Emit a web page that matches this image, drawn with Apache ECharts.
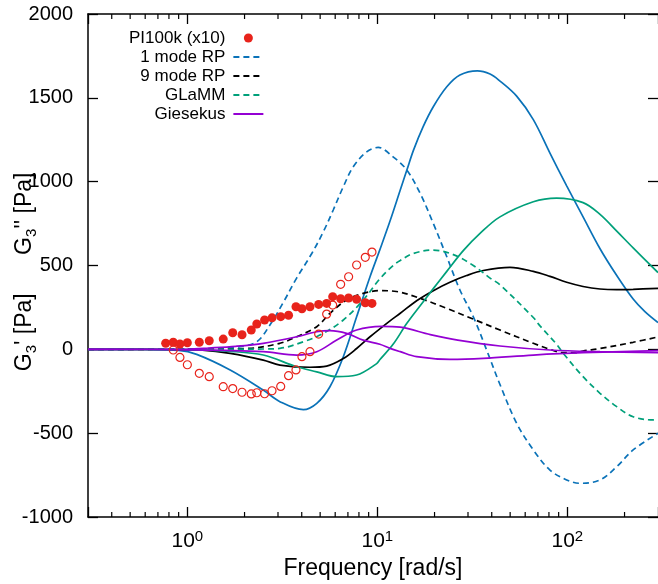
<!DOCTYPE html>
<html><head><meta charset="utf-8">
<script src="https://cdn.jsdelivr.net/npm/echarts@6/dist/echarts.min.js"></script>
<style>html,body{margin:0;padding:0;background:#fff}#c{width:658px;height:584px}</style>
</head><body><div id="c"></div>
<script>
// ---- data ----
const X_MIN = 0.3, X_MAX = 300;
const Y_MIN = -1000, Y_MAX = 2000, Y_STEP = 500;
const legendNames = ['PI100k (x10)', '1 mode RP', '9 mode RP', 'GLaMM', 'Giesekus'];
const piFreq = [0.769,0.843,0.914,1.0,1.156,1.304,1.545,1.733,1.94,2.17,2.32,2.55,2.79,3.10,3.41,3.73,4.01,4.42,4.91,5.41,5.82,6.41,7.06,7.78,8.64,9.37];
const piFilled = [36,42,32,39,42,51,61,99,87,115,151,175,188,195,203,254,242,254,268,274,314,302,306,298,278,274];
const piOpen = [null,-4,-48,-92,-143,-163,-223,-234,-256,-266,-259,-265,-247,-221,-157,-123,-44,-14,91,210,264,388,433,503,549,580];
const rp1Dashed = [[0.3,0],[0.8,1],[1.2,3],[1.6,8],[1.89,16],[2.32,45],[2.72,145],[3.20,280],[3.76,425],[4.51,570],[5.19,700],[5.86,831],[6.62,970],[7.47,1089],[8.79,1178],[10.1,1204],[12.1,1148],[14.3,1069],[16.8,930],[19.7,751],[23.2,552],[27.2,354],[32.0,194],[37.6,-4],[44.2,-210],[54.1,-441],[66.2,-600],[81,-720],[99.2,-779],[116.6,-799],[148.6,-779],[182,-700],[222,-600],[300,-501]];
const rp1Solid = [[0.3,0],[0.6,-1],[0.9,-6],[1.12,-30],[1.68,-123],[2.51,-243],[3.07,-312],[4.08,-360],[4.80,-322],[5.63,-223],[6.62,-44],[7.78,194],[9.15,433],[10.3,593],[11.66,765],[13.2,950],[14.3,1069],[15.5,1188],[17.4,1327],[19.7,1447],[23.2,1566],[27.2,1636],[33.6,1661],[39.2,1642],[44.2,1600],[54.1,1510],[66.2,1370],[81,1170],[99.2,975],[121,790],[148.6,600],[182,440],[222,300],[256,225],[300,160]];
const rp9Dashed = [[0.3,0],[1.0,1],[2.05,5],[3.07,36],[3.76,75],[4.80,135],[5.63,215],[6.89,294],[8.43,334],[10.3,350],[12.6,345],[16.8,304],[23.2,244],[32.0,180],[44.2,115],[66.2,36],[81,0],[95,-20],[110,-20],[121,-10],[148.6,5],[222,42],[300,74]];
const rp9Solid = [[0.3,0],[0.8,-1],[1.2,-5],[1.68,-24],[2.51,-64],[3.07,-94],[4.42,-107],[5.41,-100],[6.62,-55],[7.78,5],[9.15,75],[11.66,170],[13.2,215],[16.1,290],[19.7,350],[24.1,400],[29.5,440],[36.1,470],[49.9,489],[66.2,465],[81,435],[99.2,400],[121,375],[148.6,360],[182,356],[222,358],[300,364]];
const glDashed = [[0.3,0],[1.0,1],[2.51,2],[3.07,6],[4.08,45],[5.19,95],[6.62,175],[8.43,294],[10.3,420],[12.1,500],[13.2,530],[15.5,572],[19.7,592],[25.1,565],[32.0,500],[39.2,425],[44.2,385],[66.2,190],[71.8,140],[87.8,30],[95.2,-24],[121,-163],[148.6,-262],[182,-342],[222,-402],[283,-421],[300,-417]];
const glSolid = [[0.3,0],[1.0,-2],[1.68,-12],[2.51,-34],[3.76,-104],[4.80,-134],[6.11,-163],[7.78,-153],[9.92,-85],[10.3,-62],[12.1,30],[14.3,155],[16.8,260],[19.7,362],[23.2,465],[28.4,590],[34.6,690],[44.2,790],[66.2,880],[87.8,902],[121,875],[148.6,805],[182,705],[222,605],[300,458]];
const gsA = [[0.3,0],[1.0,2],[1.3,8],[1.8,18],[2.51,36],[3.76,75],[4.80,105],[5.63,111],[6.89,95],[8.43,55],[10.3,30],[11.66,6],[13.2,-14],[16.1,-44],[24.1,-60],[36.1,-54],[66.2,-34],[121,-20],[300,-8]];
const gsB = [[0.3,0],[1.0,-3],[2.51,-14],[3.76,-34],[4.80,-14],[6.11,55],[7.78,115],[10.5,137],[13.2,132],[19.0,88],[26.5,55],[44.2,20],[81,-4],[148.6,-14],[300,-20]];
const minorTickFreqs = [0.4,0.5,0.6,0.7,0.8,0.9,2,3,4,5,6,7,8,9,20,30,40,50,60,70,80,90,200];

// ---- styles ----
const FONT = '"Liberation Sans", Arial, sans-serif';
const BLUE = '#0a72b8', GREEN = '#00a07a', PURPLE = '#9400d3', RED = '#e8231b', BLACK = '#000000';
const DASH = [6, 4];

function lineSeries(name, data, color, dashed) {
  return {
    type: 'line', name: name, data: data, showSymbol: false, symbol: 'none',
    smooth: 0.35, silent: true, z: 2,
    lineStyle: { color: color, width: 1.7, type: dashed ? DASH : 'solid' },
    itemStyle: { color: color }
  };
}

const chart = echarts.init(document.getElementById('c'), null, { renderer: 'canvas' });

const xLabelFormatter = function (v) {
  const e = Math.log10(v);
  if (Math.abs(e - Math.round(e)) < 1e-6) return '{b|10}{s|' + Math.round(e) + '}';
  return '';
};

const axisLineStyle = { color: '#000', width: 1.5 };
const tickStyle = { color: '#000', width: 1.3 };
const hiddenIcon = { color: 'rgba(0,0,0,0)', borderColor: 'rgba(0,0,0,0)', borderWidth: 0 };

const option = {
  animation: false,
  textStyle: { fontFamily: FONT, color: '#000' },
  grid: { left: 88, right: 0, top: 14, bottom: 67, containLabel: false, outerBoundsMode: 'none' },
  legend: {
    orient: 'vertical', left: 129, top: 28.5, align: 'right',
    itemWidth: 30, itemHeight: 9, itemGap: 0, padding: 0,
    selectedMode: false,
    data: legendNames.map(function (n, i) { return i === 0 ? { name: n } : { name: n, itemStyle: hiddenIcon }; }),
    textStyle: { fontSize: 17, fontFamily: FONT, color: '#000', lineHeight: 19, padding: [0, 3, 0, 0] }
  },
  xAxis: [
    {
      type: 'log', logBase: 10, min: X_MIN, max: X_MAX, position: 'bottom',
      axisLine: { show: true, onZero: false, lineStyle: axisLineStyle },
      axisTick: { show: true, inside: true, length: 10, lineStyle: tickStyle },
      axisLabel: {
        margin: 12, color: '#000', formatter: xLabelFormatter,
        rich: {
          b: { fontSize: 21, fontFamily: FONT, color: '#000', lineHeight: 24 },
          s: { fontSize: 15, fontFamily: FONT, color: '#000', lineHeight: 14, verticalAlign: 'top' }
        }
      },
      splitLine: { show: false },
      name: 'Frequency [rad/s]', nameLocation: 'middle', nameGap: 40, nameMoveOverlap: false,
      nameTextStyle: { fontSize: 23, fontFamily: FONT, color: '#000' }
    },
    {
      type: 'log', logBase: 10, min: X_MIN, max: X_MAX, position: 'top',
      axisLine: { show: true, onZero: false, lineStyle: axisLineStyle },
      axisTick: { show: true, inside: true, length: 10, lineStyle: tickStyle },
      axisLabel: { show: false }, splitLine: { show: false }
    }
  ],
  yAxis: [
    {
      type: 'value', min: Y_MIN, max: Y_MAX, interval: Y_STEP, position: 'left',
      axisLine: { show: true, onZero: false, lineStyle: axisLineStyle },
      axisTick: { show: true, inside: true, length: 10, lineStyle: tickStyle },
      axisLabel: { fontSize: 20, fontFamily: FONT, color: '#000', margin: 15, formatter: function (v) { return String(v); } },
      splitLine: { show: false },
      name: "{n|G}{sub|3}{n|' [Pa]      G}{sub|3}{n|'' [Pa]  }",
      nameLocation: 'middle', nameGap: 49, nameRotate: 90, nameMoveOverlap: false,
      nameTextStyle: {
        rich: {
          n: { fontSize: 23, fontFamily: FONT, color: '#000', lineHeight: 28 },
          sub: { fontSize: 15, fontFamily: FONT, color: '#000', lineHeight: 15, verticalAlign: 'bottom' }
        }
      }
    },
    {
      type: 'value', min: Y_MIN, max: Y_MAX, interval: Y_STEP, position: 'right',
      axisLine: { show: false },
      axisTick: { show: true, inside: true, length: 10, lineStyle: tickStyle },
      axisLabel: { show: false }, splitLine: { show: false }
    }
  ],
  series: [
    {
      type: 'custom', name: 'minorTicks', coordinateSystem: 'cartesian2d', silent: true, clip: false, z: 5,
      data: minorTickFreqs.map(function (f) { return [f, Y_MIN]; }),
      renderItem: function (params, api) {
        const f = api.value(0);
        const b = api.coord([f, Y_MIN]);
        const t = api.coord([f, Y_MAX]);
        return {
          type: 'group', children: [
            { type: 'line', shape: { x1: b[0], y1: b[1], x2: b[0], y2: b[1] - 5 }, style: { stroke: '#000', lineWidth: 1.2 } },
            { type: 'line', shape: { x1: t[0], y1: t[1], x2: t[0], y2: t[1] + 5 }, style: { stroke: '#000', lineWidth: 1.2 } }
          ]
        };
      }
    },
    lineSeries('1 mode RP', rp1Dashed, BLUE, true),
    lineSeries('1 mode RP', rp1Solid, BLUE, false),
    lineSeries('9 mode RP', rp9Dashed, BLACK, true),
    lineSeries('9 mode RP', rp9Solid, BLACK, false),
    lineSeries('GLaMM', glDashed, GREEN, true),
    lineSeries('GLaMM', glSolid, GREEN, false),
    lineSeries('Giesekus', gsA, PURPLE, false),
    lineSeries('Giesekus', gsB, PURPLE, false),
    {
      type: 'scatter', name: 'PI100k (x10)', symbol: 'circle', symbolSize: 9, z: 4, silent: true,
      itemStyle: { color: RED, opacity: 1 },
      data: piFreq.map(function (f, i) { return [f, piFilled[i]]; })
    },
    {
      type: 'scatter', name: 'PI100k (x10)', symbol: 'circle', symbolSize: 8, z: 3, silent: true,
      itemStyle: { color: 'rgba(255,255,255,0)', borderColor: RED, borderWidth: 1.2, opacity: 1 },
      data: piFreq.map(function (f, i) { return [f, piOpen[i]]; }).filter(function (d) { return d[1] !== null; })
    }
  ]
};
chart.setOption(option);
</script>
</body></html>
